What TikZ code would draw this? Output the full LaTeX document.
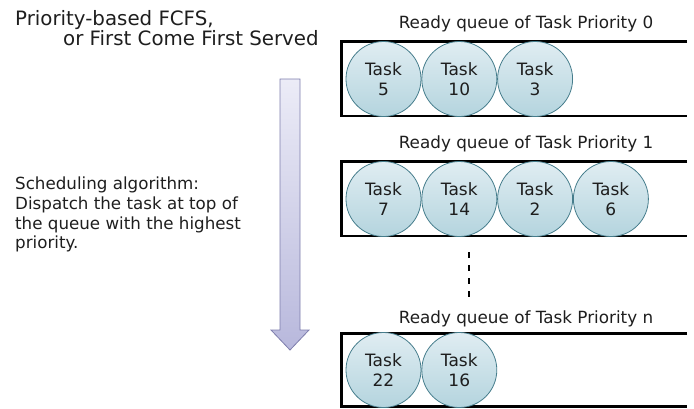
\documentclass[tikz,border=0pt]{standalone}
\usepackage{fontspec}
\setmainfont{DejaVu Sans}
\usetikzlibrary{positioning}
\definecolor{tasktop}{RGB}{224,237,242}
\definecolor{taskbot}{RGB}{180,212,222}
\definecolor{taskedge}{RGB}{70,125,140}
\definecolor{arrowtop}{RGB}{236,236,247}
\definecolor{arrowbot}{RGB}{184,184,220}
\definecolor{arrowedge}{RGB}{125,125,172}
\definecolor{txt}{RGB}{30,30,30}
\tikzstyle{task} = [circle, draw=taskedge, line width=0.8pt, top color=tasktop, bottom color=taskbot, minimum size=75pt, inner sep=0pt, align=center, text=txt, font=\fontsize{17}{19.5}\selectfont]
\tikzstyle{queue} = [line width=2.6pt]
\tikzstyle{qlabel} = [anchor=base, inner sep=0pt, text=txt, font=\fontsize{16.8}{19}\selectfont]
\tikzstyle{sep} = [line width=2pt, dash pattern=on 6pt off 7pt]

\begin{document}
\begin{tikzpicture}[x=1pt, y=-1pt, node distance=0pt]
\useasboundingbox (0,0) rectangle (694,408);

\node [anchor=base west, inner sep=0pt, text=txt, font=\fontsize{19.8}{22}\selectfont] (title1) at (15,25) {Priority-based FCFS,};
\node [anchor=base west, inner sep=0pt, text=txt, font=\fontsize{19.8}{22}\selectfont] (title2) at (63,45) {or First Come First Served};

\node [anchor=north west, align=left, inner sep=0pt, text=txt, font=\fontsize{16.7}{19.7}\selectfont] (algo) at (15,177) {Scheduling algorithm:\\Dispatch the task at top of\\the queue with the highest\\priority.};

\shadedraw [top color=arrowtop, bottom color=arrowbot, draw=arrowedge, line width=0.8pt]
  (280,79) -- (300,79) -- (300,330) -- (309,330) -- (290,350) -- (271,330) -- (280,330) -- cycle;

\node [qlabel] (lbl0) at (526,28) {Ready queue of Task Priority 0};
\draw [queue] (687,41.7) -- (341.5,41.7) -- (341.5,116) -- (687,116);
\node [task] (t5) at (383.5,79) {Task\\5};
\node [task] (t10) [right=of t5] {Task\\10};
\node [task] (t3) [right=of t10] {Task\\3};

\node [qlabel] (lbl1) at (526,148) {Ready queue of Task Priority 1};
\draw [queue] (687,161.7) -- (341.5,161.7) -- (341.5,236) -- (687,236);
\node [task] (t7) at (383.5,199) {Task\\7};
\node [task] (t14) [right=of t7] {Task\\14};
\node [task] (t2) [right=of t14] {Task\\2};
\node [task] (t6) [right=of t2] {Task\\6};

\draw [sep] (469,252) -- (469,298);

\node [qlabel] (lbln) at (526,323) {Ready queue of Task Priority n};
\draw [queue] (687,333.3) -- (341.5,333.3) -- (341.5,406.7) -- (687,406.7);
\node [task] (t22) at (383.5,370) {Task\\22};
\node [task] (t16) [right=of t22] {Task\\16};
\end{tikzpicture}
\end{document}
